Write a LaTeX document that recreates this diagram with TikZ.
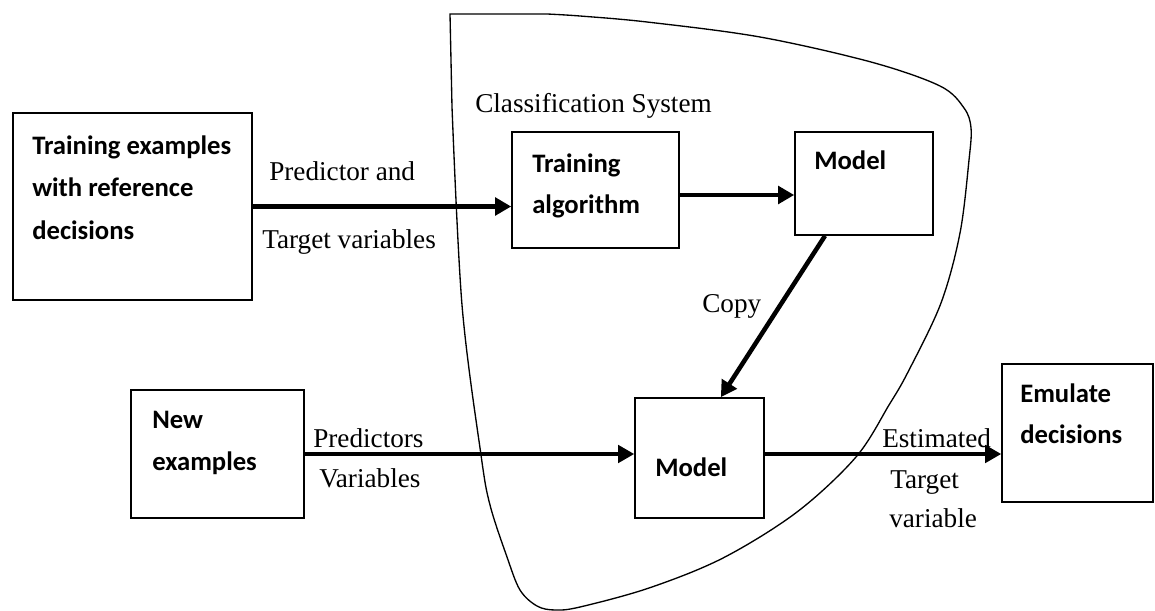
\documentclass[tikz,border=0pt]{standalone}
\usepackage{fontspec}
\setmainfont{Liberation Serif}
\newfontfamily\boxfont{Carlito}
\usetikzlibrary{arrows.meta}
\begin{document}
\begin{tikzpicture}[x=0.75pt,y=-0.75pt,
  blk/.style={draw, line width=1.2pt, rectangle, inner sep=0pt},
  btxt/.style={inner sep=0pt, anchor=base west, font=\boxfont\bfseries\fontsize{20}{31}\selectfont},
  stxt/.style={inner sep=0pt, anchor=base west, font=\fontsize{20.4}{24}\selectfont},
  flow/.style={line width=3.4pt, -{Triangle[length=12pt,width=13pt]}},
  flowthin/.style={line width=2.6pt, -{Triangle[length=12pt,width=13pt]}},
  border/.style={line width=1pt}]
\useasboundingbox (0,0) rectangle (1155,610);

% boundary of the classification system
\draw[border] (450,14) -- (547,14) -- plot[smooth, tension=0.55] coordinates {
  (547,14) (580,16) (647,22) (760,37) (871,62) (940,86) (964,108) (971,128)
  (969,160) (960,233) (941,303) (908,372) (889,405) (856,457) (797,512)
  (723,558) (649,588) (580,607) (555,610) (537,606) (520,590) (507,557)
  (490,505) (481,455) (462,305) (452,107)} -- cycle;

% boxes
\node[blk, minimum width=179.25pt, minimum height=140.25pt] (te) at (132.5,206.5) {};
\node[blk, minimum width=125.25pt, minimum height=87pt] (ta) at (595.5,190) {};
\node[blk, minimum width=103.5pt, minimum height=77.25pt] (m1) at (864,183.5) {};
\node[blk, minimum width=129.75pt, minimum height=96pt] (ne) at (217.5,454) {};
\node[blk, minimum width=96.75pt, minimum height=90pt] (m2) at (699.5,458) {};
\node[blk, minimum width=113.25pt, minimum height=103.5pt] (ed) at (1077.5,433) {};

% box texts
\node[btxt] (te-t) at (32,154) {\vtop{\baselineskip=32pt\hbox{Training examples}\hbox{with reference}\hbox{decisions}}};
\node[btxt] (ta-t) at (532,172) {\vtop{\baselineskip=31pt\hbox{Training}\hbox{algorithm}}};
\node[btxt] (m1-t) at (814,169) {Model};
\node[btxt] (ne-t) at (152,428) {\vtop{\baselineskip=31.5pt\hbox{New}\hbox{examples}}};
\node[btxt] (m2-t) at (655,476) {Model};
\node[btxt] (ed-t) at (1020,402) {\vtop{\baselineskip=31pt\hbox{Emulate}\hbox{decisions}}};

% connectors
\draw[flow] (te.east) -- (te.east -| ta.west);
\draw[flow] ([yshift=-3.75pt]ta.east) -- ([yshift=-3.75pt]ta.east -| m1.west);
\draw[flow] ([xshift=-29.25pt]m1.south) -- ([xshift=16pt]m2.north);
\draw[flowthin] (ne.east) -- (ne.east -| m2.west);
\draw[flowthin] (ne.east -| m2.east) -- (ne.east -| ed.west);

% connector labels
\node[stxt] (cls) at (475,112) {Classification System};
\node[stxt] (l1a) at (269,180) {Predictor and};
\node[stxt] (l1b) at (262,248) {Target variables};
\node[stxt] (l2) at (702,312) {Copy};
\node[stxt] (l3a) at (313,447) {Predictors};
\node[stxt] (l3b) at (319,487) {Variables};
\node[stxt] (l4a) at (882,447) {Estimated};
\node[stxt] (l4b) at (890,488) {Target};
\node[stxt] (l4c) at (889,527) {variable};
\end{tikzpicture}
\end{document}
